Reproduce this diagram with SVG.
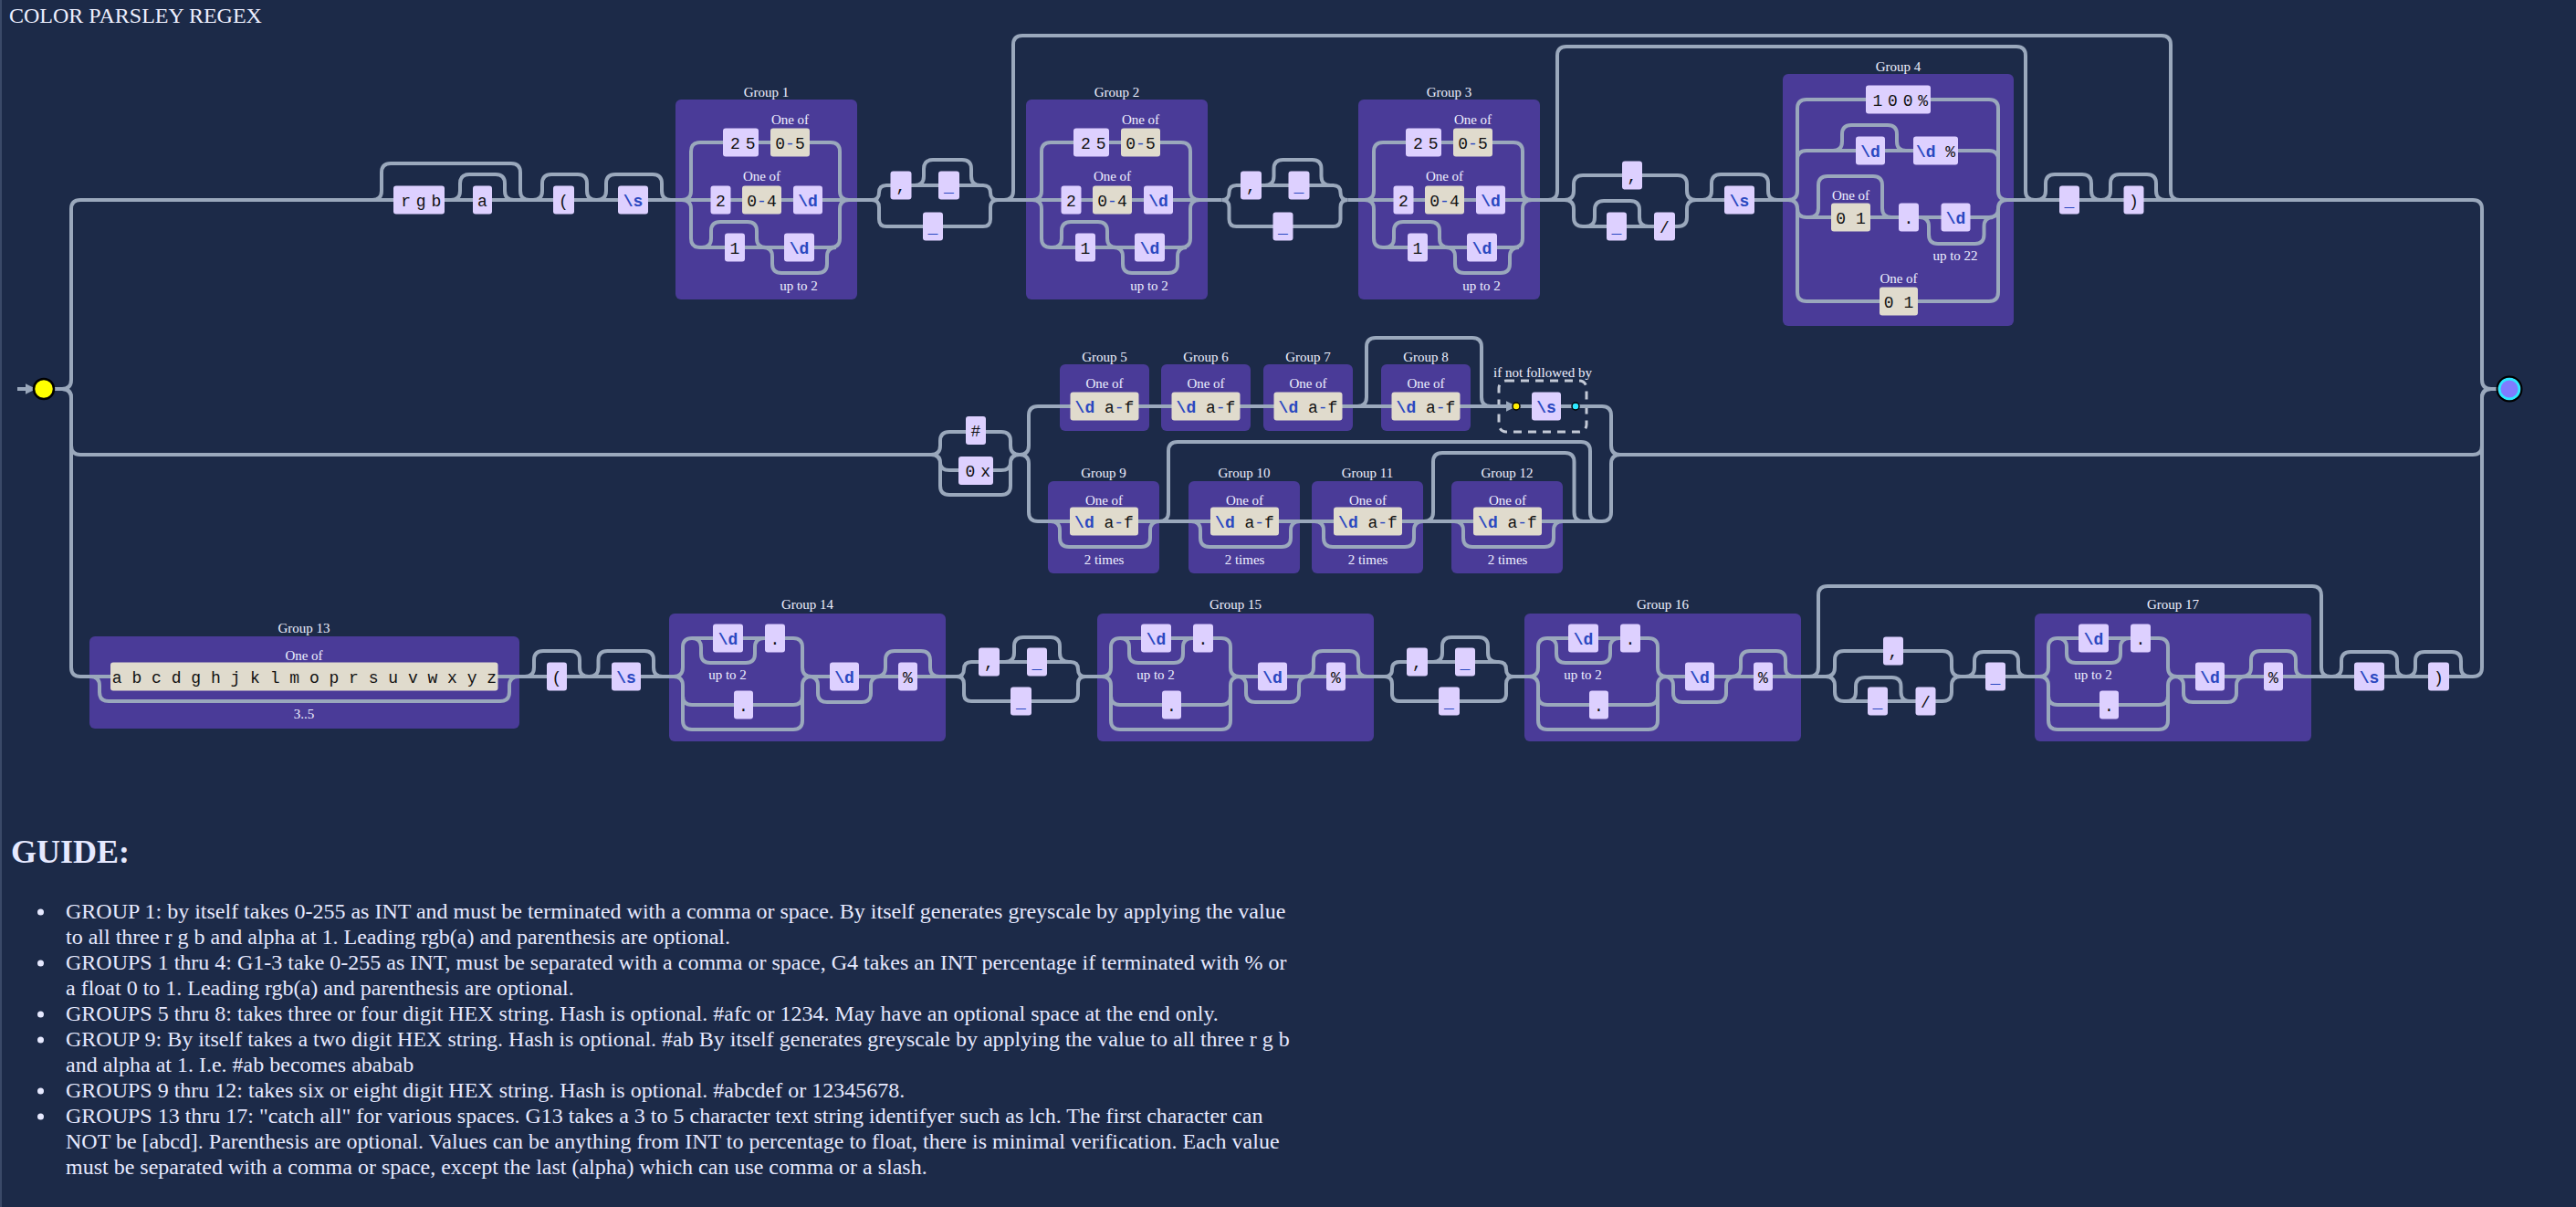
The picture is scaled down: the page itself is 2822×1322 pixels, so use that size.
<svg xmlns="http://www.w3.org/2000/svg" width="2822" height="1322" viewBox="0 0 2822 1322">
<defs>
<style>
.grp{fill:#4a3b98}
.lit{fill:#ddd0ff}
.cs{fill:#e0dbcd}
.ln{fill:none;stroke:#9aa8bc;stroke-width:4}
.lbl{font-family:"Liberation Serif",serif;font-size:15px;fill:#eef0ff;text-anchor:middle}
.t{font-family:"Liberation Mono","DejaVu Sans Mono",monospace;font-size:18px;fill:#111;text-anchor:middle}
.sp{letter-spacing:-2.5px}
.b{fill:#2a48c0;font-weight:bold}
.h{fill:#2a48c0}
.guide{font-family:"Liberation Serif",serif;font-size:24px;fill:#e6e9ff}
</style>
<marker id="arr" viewBox="0 0 10 10" refX="2" refY="5" markerWidth="3" markerHeight="3" orient="auto"><path d="M0 0 L10 5 L0 10 z" fill="#9aa8bc"/></marker>
</defs>
<rect x="0" y="0" width="2822" height="1322" fill="#1c2a48"/>
<rect x="0" y="0" width="2" height="1322" fill="#3a4968"/>
<text x="10" y="25" font-family="Liberation Serif, serif" font-size="24" fill="#eef0ff">COLOR PARSLEY REGEX</text>

<!-- group containers -->
<g id="containers">
 <g id="group-1"><rect class="grp" x="740" y="109" width="199" height="219" rx="6"/><text class="lbl" x="839.5" y="106">Group 1</text></g>
 <g id="group-2"><rect class="grp" x="1124" y="109" width="199" height="219" rx="6"/><text class="lbl" x="1223.5" y="106">Group 2</text></g>
 <g id="group-3"><rect class="grp" x="1488" y="109" width="199" height="219" rx="6"/><text class="lbl" x="1587.5" y="106">Group 3</text></g>
 <g id="group-4"><rect class="grp" x="1953" y="81" width="253" height="276" rx="6"/><text class="lbl" x="2079.5" y="78">Group 4</text></g>
 <g id="group-5"><rect class="grp" x="1161" y="399" width="98" height="73" rx="6"/><text class="lbl" x="1210" y="396">Group 5</text></g>
 <g id="group-6"><rect class="grp" x="1272" y="399" width="98" height="73" rx="6"/><text class="lbl" x="1321" y="396">Group 6</text></g>
 <g id="group-7"><rect class="grp" x="1384" y="399" width="98" height="73" rx="6"/><text class="lbl" x="1433" y="396">Group 7</text></g>
 <g id="group-8"><rect class="grp" x="1513" y="399" width="98" height="73" rx="6"/><text class="lbl" x="1562" y="396">Group 8</text></g>
 <g id="group-9"><rect class="grp" x="1148" y="527" width="122" height="101" rx="6"/><text class="lbl" x="1209" y="523">Group 9</text></g>
 <g id="group-10"><rect class="grp" x="1302" y="527" width="122" height="101" rx="6"/><text class="lbl" x="1363" y="523">Group 10</text></g>
 <g id="group-11"><rect class="grp" x="1437" y="527" width="122" height="101" rx="6"/><text class="lbl" x="1498" y="523">Group 11</text></g>
 <g id="group-12"><rect class="grp" x="1590" y="527" width="122" height="101" rx="6"/><text class="lbl" x="1651" y="523">Group 12</text></g>
 <g id="group-13"><rect class="grp" x="98" y="697" width="471" height="101" rx="6"/><text class="lbl" x="333" y="693">Group 13</text></g>
 <g id="group-14"><rect class="grp" x="733" y="672" width="303" height="140" rx="6"/><text class="lbl" x="884.5" y="667">Group 14</text></g>
 <g id="group-15"><rect class="grp" x="1202" y="672" width="303" height="140" rx="6"/><text class="lbl" x="1353.5" y="667">Group 15</text></g>
 <g id="group-16"><rect class="grp" x="1670" y="672" width="303" height="140" rx="6"/><text class="lbl" x="1821.5" y="667">Group 16</text></g>
 <g id="group-17"><rect class="grp" x="2229" y="672" width="303" height="140" rx="6"/><text class="lbl" x="2380.5" y="667">Group 17</text></g>
 <g id="lookahead"><rect x="1642" y="417" width="96" height="56" rx="8" fill="none" stroke="#c3c9d6" stroke-width="3" stroke-dasharray="9 7"/><text class="lbl" x="1690" y="413">if not followed by</text></g>
</g>

<!-- connectors -->
<g id="connectors" class="ln">
 <!-- start / rails -->
 <path d="M19 426 H30" marker-end="url(#arr)"/>
 <path d="M60 426 H68 q10 0 10 -10 V229 q0 -10 10 -10 H955"/>
 <path d="M68 426 q10 0 10 10 V488 q0 10 10 10 H1020"/>
 <path d="M68 426 q10 0 10 10 V731 q0 10 10 10 H738"/>
 <!-- top row main -->
 <path d="M1093 219 H1338.5 M1476.5 219 H1714 M1858 219 H1959 M2199 219 H2709 q10 0 10 10 V416 q0 10 10 10 H2737"/>
 <path d="M408 219 q10 0 10 -10 V189 q0 -10 10 -10 H560 q10 0 10 10 V209 q0 10 10 10"/>
 <path d="M494 219 q10 0 10 -10 V201 q0 -10 10 -10 H543 q10 0 10 10 V209 q0 10 10 10"/>
 <path d="M584 219 q10 0 10 -10 V201 q0 -10 10 -10 H633 q10 0 10 10 V209 q0 10 10 10"/>
 <path d="M654 219 q10 0 10 -10 V201 q0 -10 10 -10 H715 q10 0 10 10 V209 q0 10 10 10"/>
 <g id="c-g1"><path d="M747 219 q10 0 10 -10 V166 q0 -10 10 -10 H910 q10 0 10 10 V209 q0 10 10 10 M747 219 q10 0 10 10 V261 q0 10 10 10 H910 q10 0 10 -10 V229 q0 -10 10 -10 M769 271 q10 0 10 -10 V253 q0 -10 10 -10 H819 q10 0 10 10 V261 q0 10 10 10 M836 271 q10 0 10 10 V289 q0 10 10 10 H896 q10 0 10 -10 V281 q0 -10 10 -10"/></g>
 <g id="c-g2" transform="translate(384,0)"><path d="M747 219 q10 0 10 -10 V166 q0 -10 10 -10 H910 q10 0 10 10 V209 q0 10 10 10 M747 219 q10 0 10 10 V261 q0 10 10 10 H910 q10 0 10 -10 V229 q0 -10 10 -10 M769 271 q10 0 10 -10 V253 q0 -10 10 -10 H819 q10 0 10 10 V261 q0 10 10 10 M836 271 q10 0 10 10 V289 q0 10 10 10 H896 q10 0 10 -10 V281 q0 -10 10 -10"/></g>
 <g id="c-g3" transform="translate(748,0)"><path d="M747 219 q10 0 10 -10 V166 q0 -10 10 -10 H910 q10 0 10 10 V209 q0 10 10 10 M747 219 q10 0 10 10 V261 q0 10 10 10 H910 q10 0 10 -10 V229 q0 -10 10 -10 M769 271 q10 0 10 -10 V253 q0 -10 10 -10 H819 q10 0 10 10 V261 q0 10 10 10 M836 271 q10 0 10 10 V289 q0 10 10 10 H896 q10 0 10 -10 V281 q0 -10 10 -10"/></g>
 <g id="c-sep1" transform="translate(955,0)"><path d="M0 219 q8 0 8 -8 q0 -8 8 -8 H122 q8 0 8 8 q0 8 8 8 M0 219 q8 0 8 8 V240 q0 8 8 8 H122 q8 0 8 -8 V227 q0 -8 8 -8 M47 203 q10 0 10 -10 V185 q0 -10 10 -10 H99 q10 0 10 10 V193 q0 10 10 10"/></g>
 <g id="c-sep2" transform="translate(1338.5,0)"><path d="M0 219 q8 0 8 -8 q0 -8 8 -8 H122 q8 0 8 8 q0 8 8 8 M0 219 q8 0 8 8 V240 q0 8 8 8 H122 q8 0 8 -8 V227 q0 -8 8 -8 M47 203 q10 0 10 -10 V185 q0 -10 10 -10 H99 q10 0 10 10 V193 q0 10 10 10"/></g>
 <path d="M1100 219 q10 0 10 -10 V49 q0 -10 10 -10 H2368 q10 0 10 10 V209 q0 10 10 10"/>
 <path d="M1696 219 q10 0 10 -10 V61 q0 -10 10 -10 H2209 q10 0 10 10 V209 q0 10 10 10"/>
 <path d="M1714 219 q10 0 10 -10 V202 q0 -10 10 -10 H1838 q10 0 10 10 V209 q0 10 10 10 M1714 219 q10 0 10 10 V238 q0 10 10 10 H1838 q10 0 10 -10 V229 q0 -10 10 -10 M1737 248 q10 0 10 -10 V230 q0 -10 10 -10 H1786 q10 0 10 10 V238 q0 10 10 10"/>
 <path d="M1865 219 q10 0 10 -10 V201 q0 -10 10 -10 H1927 q10 0 10 10 V209 q0 10 10 10"/>
 <g id="c-g4"><path d="M1959 219 q10 0 10 -10 V119 q0 -10 10 -10 H2179 q10 0 10 10 V209 q0 10 10 10 M1959 219 q10 0 10 -10 V175 q0 -10 10 -10 H2179 q10 0 10 10 V209 q0 10 10 10 M1959 219 q10 0 10 9.5 q0 9.5 10 9.5 H2179 q10 0 10 -9.5 q0 -9.5 10 -9.5 M1959 219 q10 0 10 10 V320 q0 10 10 10 H2179 q10 0 10 -10 V229 q0 -10 10 -10 M2008 165 q10 0 10 -10 V147 q0 -10 10 -10 H2068 q10 0 10 10 V155 q0 10 10 10 M1982 238 q10 0 10 -10 V203 q0 -10 10 -10 H2052 q10 0 10 10 V228 q0 10 10 10 M2103 238 q10 0 10 10 V257 q0 10 10 10 H2163.5 q10 0 10 -10 V248 q0 -10 10 -10"/></g>
 <path d="M2231 219 q10 0 10 -10 V201 q0 -10 10 -10 H2281 q10 0 10 10 V209 q0 10 10 10"/>
 <path d="M2302 219 q10 0 10 -10 V201 q0 -10 10 -10 H2352 q10 0 10 10 V209 q0 10 10 10"/>
 <!-- middle row -->
 <path d="M1020 498 q10 0 10 -10 V483 q0 -10 10 -10 H1097 q10 0 10 10 V488 q0 10 10 10 M1020 498 q10 0 10 8.5 q0 8.5 10 8.5 H1097 q10 0 10 -8.5 q0 -8.5 10 -8.5 M1020 498 q10 0 10 10 V532 q0 10 10 10 H1097 q10 0 10 -10 V508 q0 -10 10 -10"/>
 <path d="M1117 498 q10 0 10 -10 V455 q0 -10 10 -10 H1755 q10 0 10 10 V488 q0 10 10 10"/>
 <path d="M1117 498 q10 0 10 10 V561 q0 10 10 10 H1755 q10 0 10 -10 V508 q0 -10 10 -10"/>
 <path d="M1775 498 H2709 q10 0 10 -10 V436 q0 -10 10 -10"/>
 <path d="M1487 445 q10 0 10 -10 V380 q0 -10 10 -10 H1613 q10 0 10 10 V435 q0 10 10 10"/>
 <path d="M1270 571 q10 0 10 -10 V494 q0 -10 10 -10 H1732 q10 0 10 10 V561 q0 10 10 10"/>
 <path d="M1560 571 q10 0 10 -10 V506 q0 -10 10 -10 H1714.5 q10 0 10 10 V561 q0 10 10 10"/>
 <path d="M1151 571 q10 0 10 10 V589 q0 10 10 10 H1250 q10 0 10 -10 V581 q0 -10 10 -10 M1305 571 q10 0 10 10 V589 q0 10 10 10 H1404 q10 0 10 -10 V581 q0 -10 10 -10 M1440 571 q10 0 10 10 V589 q0 10 10 10 H1539 q10 0 10 -10 V581 q0 -10 10 -10 M1593 571 q10 0 10 10 V589 q0 10 10 10 H1692 q10 0 10 -10 V581 q0 -10 10 -10"/>
 <path d="M1646 445 H1652" marker-end="url(#arr)"/>
 <!-- bottom row -->
 <path d="M889 741 H1048 M1189 741 H1207 M1358 741 H1517 M1658 741 H1675 M1826 741 H2000 M2148 741 H2234 M2385 741 H2709 q10 0 10 -10 V436 q0 -10 10 -10"/>
 <path d="M99 741 q10 0 10 10 V758 q0 10 10 10 H548 q10 0 10 -10 V751 q0 -10 10 -10"/>
 <path d="M575 741 q10 0 10 -10 V723 q0 -10 10 -10 H625 q10 0 10 10 V731 q0 10 10 10"/>
 <path d="M645.5 741 q10 0 10 -10 V723 q0 -10 10 -10 H706 q10 0 10 10 V731 q0 10 10 10"/>
 <g id="c-g14" transform="translate(733,0)"><path d="M5 741 q10 0 10 -10 V709 q0 -10 10 -10 H136 q10 0 10 10 V731 q0 10 10 10 M5 741 q10 0 10 10 V762 q0 10 10 10 H136 q10 0 10 -10 V751 q0 -10 10 -10 M5 741 q10 0 10 10 V789 q0 10 10 10 H136 q10 0 10 -10 V751 q0 -10 10 -10 M25 699 q10 0 10 10 V716 q0 10 10 10 H84 q10 0 10 -10 V709 q0 -10 10 -10 M156 741 H227 M153 741 q10 0 10 10 V759 q0 10 10 10 H211 q10 0 10 -10 V751 q0 -10 10 -10 M227 741 q10 0 10 -10 V723 q0 -10 10 -10 H276 q10 0 10 10 V731 q0 10 10 10 M227 741 H296"/></g>
 <g id="c-g15" transform="translate(1202,0)"><path d="M5 741 q10 0 10 -10 V709 q0 -10 10 -10 H136 q10 0 10 10 V731 q0 10 10 10 M5 741 q10 0 10 10 V762 q0 10 10 10 H136 q10 0 10 -10 V751 q0 -10 10 -10 M5 741 q10 0 10 10 V789 q0 10 10 10 H136 q10 0 10 -10 V751 q0 -10 10 -10 M25 699 q10 0 10 10 V716 q0 10 10 10 H84 q10 0 10 -10 V709 q0 -10 10 -10 M156 741 H227 M153 741 q10 0 10 10 V759 q0 10 10 10 H211 q10 0 10 -10 V751 q0 -10 10 -10 M227 741 q10 0 10 -10 V723 q0 -10 10 -10 H276 q10 0 10 10 V731 q0 10 10 10 M227 741 H296"/></g>
 <g id="c-g16" transform="translate(1670,0)"><path d="M5 741 q10 0 10 -10 V709 q0 -10 10 -10 H136 q10 0 10 10 V731 q0 10 10 10 M5 741 q10 0 10 10 V762 q0 10 10 10 H136 q10 0 10 -10 V751 q0 -10 10 -10 M5 741 q10 0 10 10 V789 q0 10 10 10 H136 q10 0 10 -10 V751 q0 -10 10 -10 M25 699 q10 0 10 10 V716 q0 10 10 10 H84 q10 0 10 -10 V709 q0 -10 10 -10 M156 741 H227 M153 741 q10 0 10 10 V759 q0 10 10 10 H211 q10 0 10 -10 V751 q0 -10 10 -10 M227 741 q10 0 10 -10 V723 q0 -10 10 -10 H276 q10 0 10 10 V731 q0 10 10 10 M227 741 H296"/></g>
 <g id="c-g17" transform="translate(2229,0)"><path d="M5 741 q10 0 10 -10 V709 q0 -10 10 -10 H136 q10 0 10 10 V731 q0 10 10 10 M5 741 q10 0 10 10 V762 q0 10 10 10 H136 q10 0 10 -10 V751 q0 -10 10 -10 M5 741 q10 0 10 10 V789 q0 10 10 10 H136 q10 0 10 -10 V751 q0 -10 10 -10 M25 699 q10 0 10 10 V716 q0 10 10 10 H84 q10 0 10 -10 V709 q0 -10 10 -10 M156 741 H227 M153 741 q10 0 10 10 V759 q0 10 10 10 H211 q10 0 10 -10 V751 q0 -10 10 -10 M227 741 q10 0 10 -10 V723 q0 -10 10 -10 H276 q10 0 10 10 V731 q0 10 10 10 M227 741 H296"/></g>
 <g id="c-bsep1" transform="translate(1048,0)"><path d="M0 741 q8 0 8 -8 q0 -8 8 -8 H125 q8 0 8 8 q0 8 8 8 M0 741 q8 0 8 8 V760 q0 8 8 8 H125 q8 0 8 -8 V749 q0 -8 8 -8 M53 725 q10 0 10 -10 V708 q0 -10 10 -10 H103 q10 0 10 10 V715 q0 10 10 10"/></g>
 <g id="c-bsep2" transform="translate(1517,0)"><path d="M0 741 q8 0 8 -8 q0 -8 8 -8 H125 q8 0 8 8 q0 8 8 8 M0 741 q8 0 8 8 V760 q0 8 8 8 H125 q8 0 8 -8 V749 q0 -8 8 -8 M53 725 q10 0 10 -10 V708 q0 -10 10 -10 H103 q10 0 10 10 V715 q0 10 10 10"/></g>
 <path d="M1982 741 q10 0 10 -10 V652 q0 -10 10 -10 H2533 q10 0 10 10 V731 q0 10 10 10"/>
 <path d="M2000 741 q10 0 10 -10 V723 q0 -10 10 -10 H2128 q10 0 10 10 V731 q0 10 10 10 M2000 741 q10 0 10 10 V758 q0 10 10 10 H2128 q10 0 10 -10 V751 q0 -10 10 -10 M2023 768 q10 0 10 -10 V752 q0 -10 10 -10 H2072.5 q10 0 10 10 V758 q0 10 10 10"/>
 <path d="M2153 741 q10 0 10 -10 V724 q0 -10 10 -10 H2201 q10 0 10 10 V731 q0 10 10 10"/>
 <path d="M2555 741 q10 0 10 -10 V724 q0 -10 10 -10 H2616 q10 0 10 10 V731 q0 10 10 10"/>
 <path d="M2636 741 q10 0 10 -10 V724 q0 -10 10 -10 H2686 q10 0 10 10 V731 q0 10 10 10"/>
</g>

<!-- nodes -->
<g id="nodes">
 <g id="start"><circle cx="48" cy="426" r="11" fill="#ffff00" stroke="#000" stroke-width="2.5"/></g>
 <g id="end"><circle cx="2749" cy="426" r="11" fill="#7f7cff" stroke="#2ee8ff" stroke-width="3"/><circle cx="2749" cy="426" r="13.5" fill="none" stroke="#000" stroke-width="2"/></g>
 <g id="n-rgb"><rect class="lit" x="431" y="203.5" width="56" height="31" rx="3"/><text class="t sp" x="460" y="225.5">r g b</text></g>
 <g id="n-a"><rect class="lit" x="518" y="203.5" width="21" height="31" rx="3"/><text class="t" x="528.5" y="225.5">a</text></g>
 <g id="n-lp1"><rect class="lit" x="606" y="203.5" width="23" height="31" rx="3"/><text class="t" x="617.5" y="225.5">(</text></g>
 <g id="n-s1"><rect class="lit" x="677" y="203.5" width="33" height="31" rx="3"/><text class="t" x="693.5" y="225.5"><tspan class="b">\s</tspan></text></g>

 <g id="g1-items" transform="translate(740,0)">
  <g id="g1-25"><rect class="lit" x="52" y="140.5" width="39" height="31" rx="3"/><text class="t sp" x="72.5" y="162.5">2 5</text></g>
  <g id="g1-05"><text class="lbl" x="125.5" y="136">One of</text><rect class="cs" x="104" y="140.5" width="43" height="31" rx="3"/><text class="t" x="125.5" y="162.5">0<tspan class="h">-</tspan>5</text></g>
  <g id="g1-2"><rect class="lit" x="38.5" y="203.5" width="22" height="31" rx="3"/><text class="t" x="49.5" y="225.5">2</text></g>
  <g id="g1-04"><text class="lbl" x="94.5" y="198">One of</text><rect class="cs" x="73" y="203.5" width="43" height="31" rx="3"/><text class="t" x="94.5" y="225.5">0<tspan class="h">-</tspan>4</text></g>
  <g id="g1-d1"><rect class="lit" x="129" y="203.5" width="32" height="31" rx="3"/><text class="t" x="145" y="225.5"><tspan class="b">\d</tspan></text></g>
  <g id="g1-1"><rect class="lit" x="54" y="255.5" width="22" height="31" rx="3"/><text class="t" x="65" y="277.5">1</text></g>
  <g id="g1-d2"><rect class="lit" x="119" y="255.5" width="33" height="31" rx="3"/><text class="t" x="135.5" y="277.5"><tspan class="b">\d</tspan></text><text class="lbl" x="135" y="318">up to 2</text></g>
 </g>
 <g id="g2-items" transform="translate(1124,0)">
  <g id="g2-25"><rect class="lit" x="52" y="140.5" width="39" height="31" rx="3"/><text class="t sp" x="72.5" y="162.5">2 5</text></g>
  <g id="g2-05"><text class="lbl" x="125.5" y="136">One of</text><rect class="cs" x="104" y="140.5" width="43" height="31" rx="3"/><text class="t" x="125.5" y="162.5">0<tspan class="h">-</tspan>5</text></g>
  <g id="g2-2"><rect class="lit" x="38.5" y="203.5" width="22" height="31" rx="3"/><text class="t" x="49.5" y="225.5">2</text></g>
  <g id="g2-04"><text class="lbl" x="94.5" y="198">One of</text><rect class="cs" x="73" y="203.5" width="43" height="31" rx="3"/><text class="t" x="94.5" y="225.5">0<tspan class="h">-</tspan>4</text></g>
  <g id="g2-d1"><rect class="lit" x="129" y="203.5" width="32" height="31" rx="3"/><text class="t" x="145" y="225.5"><tspan class="b">\d</tspan></text></g>
  <g id="g2-1"><rect class="lit" x="54" y="255.5" width="22" height="31" rx="3"/><text class="t" x="65" y="277.5">1</text></g>
  <g id="g2-d2"><rect class="lit" x="119" y="255.5" width="33" height="31" rx="3"/><text class="t" x="135.5" y="277.5"><tspan class="b">\d</tspan></text><text class="lbl" x="135" y="318">up to 2</text></g>
 </g>
 <g id="g3-items" transform="translate(1488,0)">
  <g id="g3-25"><rect class="lit" x="52" y="140.5" width="39" height="31" rx="3"/><text class="t sp" x="72.5" y="162.5">2 5</text></g>
  <g id="g3-05"><text class="lbl" x="125.5" y="136">One of</text><rect class="cs" x="104" y="140.5" width="43" height="31" rx="3"/><text class="t" x="125.5" y="162.5">0<tspan class="h">-</tspan>5</text></g>
  <g id="g3-2"><rect class="lit" x="38.5" y="203.5" width="22" height="31" rx="3"/><text class="t" x="49.5" y="225.5">2</text></g>
  <g id="g3-04"><text class="lbl" x="94.5" y="198">One of</text><rect class="cs" x="73" y="203.5" width="43" height="31" rx="3"/><text class="t" x="94.5" y="225.5">0<tspan class="h">-</tspan>4</text></g>
  <g id="g3-d1"><rect class="lit" x="129" y="203.5" width="32" height="31" rx="3"/><text class="t" x="145" y="225.5"><tspan class="b">\d</tspan></text></g>
  <g id="g3-1"><rect class="lit" x="54" y="255.5" width="22" height="31" rx="3"/><text class="t" x="65" y="277.5">1</text></g>
  <g id="g3-d2"><rect class="lit" x="119" y="255.5" width="33" height="31" rx="3"/><text class="t" x="135.5" y="277.5"><tspan class="b">\d</tspan></text><text class="lbl" x="135" y="318">up to 2</text></g>
 </g>
 <g id="sep1-items" transform="translate(955,0)">
  <g id="s1-comma"><rect class="lit" x="20.5" y="187.5" width="23" height="31" rx="3"/><text class="t" x="32" y="209.5">,</text></g>
  <g id="s1-sp1"><rect class="lit" x="73" y="187.5" width="23" height="31" rx="3"/><text class="t h" x="84.5" y="209.5">_</text></g>
  <g id="s1-sp2"><rect class="lit" x="56" y="232.5" width="22" height="31" rx="3"/><text class="t h" x="67" y="254.5">_</text></g>
 </g>
 <g id="sep2-items" transform="translate(1338.5,0)">
  <g id="s2-comma"><rect class="lit" x="20.5" y="187.5" width="23" height="31" rx="3"/><text class="t" x="32" y="209.5">,</text></g>
  <g id="s2-sp1"><rect class="lit" x="73" y="187.5" width="23" height="31" rx="3"/><text class="t h" x="84.5" y="209.5">_</text></g>
  <g id="s2-sp2"><rect class="lit" x="56" y="232.5" width="22" height="31" rx="3"/><text class="t h" x="67" y="254.5">_</text></g>
 </g>
 <g id="s3-comma"><rect class="lit" x="1777" y="176.5" width="22" height="31" rx="3"/><text class="t" x="1788" y="198.5">,</text></g>
 <g id="s3-sp"><rect class="lit" x="1760" y="232.5" width="22" height="31" rx="3"/><text class="t h" x="1771" y="254.5">_</text></g>
 <g id="s3-slash"><rect class="lit" x="1812" y="232.5" width="23" height="31" rx="3"/><text class="t" x="1823.5" y="254.5">/</text></g>
 <g id="n-s2"><rect class="lit" x="1889" y="203.5" width="33" height="31" rx="3"/><text class="t" x="1905.5" y="225.5"><tspan class="b">\s</tspan></text></g>
 <g id="g4-100"><rect class="lit" x="2044" y="93.5" width="71" height="31" rx="3"/><text class="t sp" x="2080.5" y="115.5">1 0 0 %</text></g>
 <g id="g4-d1"><rect class="lit" x="2033" y="149.5" width="32" height="31" rx="3"/><text class="t" x="2049" y="171.5"><tspan class="b">\d</tspan></text></g>
 <g id="g4-dp"><rect class="lit" x="2096" y="149.5" width="49" height="31" rx="3"/><text class="t" x="2120.5" y="171.5"><tspan class="b">\d</tspan> %</text></g>
 <g id="g4-01a"><text class="lbl" x="2027.5" y="219">One of</text><rect class="cs" x="2006" y="222.5" width="43" height="31" rx="3"/><text class="t" x="2027.5" y="244.5">0 1</text></g>
 <g id="g4-dot"><rect class="lit" x="2080" y="222.5" width="22" height="31" rx="3"/><text class="t" x="2091" y="244.5">.</text></g>
 <g id="g4-d2"><rect class="lit" x="2126.5" y="222.5" width="32" height="31" rx="3"/><text class="t" x="2142.5" y="244.5"><tspan class="b">\d</tspan></text><text class="lbl" x="2142" y="285">up to 22</text></g>
 <g id="g4-01b"><text class="lbl" x="2080" y="310">One of</text><rect class="cs" x="2059" y="314.5" width="42" height="31" rx="3"/><text class="t" x="2080" y="336.5">0 1</text></g>
 <g id="n-sp3"><rect class="lit" x="2256" y="203.5" width="22" height="31" rx="3"/><text class="t h" x="2267" y="225.5">_</text></g>
 <g id="n-rp1"><rect class="lit" x="2326.5" y="203.5" width="22" height="31" rx="3"/><text class="t" x="2337.5" y="225.5">)</text></g>

 <!-- middle -->
 <g id="n-hash"><rect class="lit" x="1058" y="456" width="22" height="31" rx="3"/><text class="t" x="1069" y="478">#</text></g>
 <g id="n-0x"><rect class="lit" x="1050" y="500" width="38" height="31" rx="3"/><text class="t sp" x="1070" y="522">0 x</text></g>
 <g id="g5-set"><text class="lbl" x="1210" y="425">One of</text><rect class="cs" x="1172.5" y="429.5" width="75" height="31" rx="3"/><text class="t" x="1210" y="451.5"><tspan class="b">\d</tspan> a<tspan class="h">-</tspan>f</text></g>
 <g id="g6-set"><text class="lbl" x="1321" y="425">One of</text><rect class="cs" x="1283.5" y="429.5" width="75" height="31" rx="3"/><text class="t" x="1321" y="451.5"><tspan class="b">\d</tspan> a<tspan class="h">-</tspan>f</text></g>
 <g id="g7-set"><text class="lbl" x="1433" y="425">One of</text><rect class="cs" x="1395.5" y="429.5" width="75" height="31" rx="3"/><text class="t" x="1433" y="451.5"><tspan class="b">\d</tspan> a<tspan class="h">-</tspan>f</text></g>
 <g id="g8-set"><text class="lbl" x="1562" y="425">One of</text><rect class="cs" x="1524.5" y="429.5" width="75" height="31" rx="3"/><text class="t" x="1562" y="451.5"><tspan class="b">\d</tspan> a<tspan class="h">-</tspan>f</text></g>
 <g id="la-items"><circle cx="1661" cy="445" r="4" fill="#ffee00" stroke="#000" stroke-width="1.5"/><rect class="lit" x="1678" y="429.5" width="32" height="31" rx="3"/><text class="t" x="1694" y="451.5"><tspan class="b">\s</tspan></text><circle cx="1726" cy="445" r="4" fill="#2ee8ff" stroke="#000" stroke-width="1.5"/></g>
 <g id="g9-set"><text class="lbl" x="1209.5" y="553">One of</text><rect class="cs" x="1172" y="555.5" width="75" height="31" rx="3"/><text class="t" x="1209.5" y="577.5"><tspan class="b">\d</tspan> a<tspan class="h">-</tspan>f</text><text class="lbl" x="1209.5" y="618">2 times</text></g>
 <g id="g10-set"><text class="lbl" x="1363.5" y="553">One of</text><rect class="cs" x="1326" y="555.5" width="75" height="31" rx="3"/><text class="t" x="1363.5" y="577.5"><tspan class="b">\d</tspan> a<tspan class="h">-</tspan>f</text><text class="lbl" x="1363.5" y="618">2 times</text></g>
 <g id="g11-set"><text class="lbl" x="1498.5" y="553">One of</text><rect class="cs" x="1461" y="555.5" width="75" height="31" rx="3"/><text class="t" x="1498.5" y="577.5"><tspan class="b">\d</tspan> a<tspan class="h">-</tspan>f</text><text class="lbl" x="1498.5" y="618">2 times</text></g>
 <g id="g12-set"><text class="lbl" x="1651.5" y="553">One of</text><rect class="cs" x="1614" y="555.5" width="75" height="31" rx="3"/><text class="t" x="1651.5" y="577.5"><tspan class="b">\d</tspan> a<tspan class="h">-</tspan>f</text><text class="lbl" x="1651.5" y="618">2 times</text></g>

 <!-- bottom -->
 <g id="g13-set"><text class="lbl" x="333" y="723">One of</text><rect class="cs" x="121" y="725.5" width="424.5" height="31" rx="3"/><text class="t" x="333.5" y="747.5">a b c d g h j k l m o p r s u v w x y z</text><text class="lbl" x="333" y="787">3..5</text></g>
 <g id="n-lp2"><rect class="lit" x="599" y="725.5" width="22" height="31" rx="3"/><text class="t" x="610" y="747.5">(</text></g>
 <g id="n-s3"><rect class="lit" x="670" y="725.5" width="32" height="31" rx="3"/><text class="t" x="686" y="747.5"><tspan class="b">\s</tspan></text></g>
 <g id="g14-items" transform="translate(733,0)">
  <g id="g14-d1"><rect class="lit" x="48" y="683.5" width="33" height="31" rx="3"/><text class="t" x="64.5" y="705.5"><tspan class="b">\d</tspan></text><text class="lbl" x="64" y="744">up to 2</text></g>
  <g id="g14-dot1"><rect class="lit" x="105" y="683.5" width="22" height="31" rx="3"/><text class="t" x="116" y="705.5">.</text></g>
  <g id="g14-dot2"><rect class="lit" x="71" y="756.5" width="21" height="31" rx="3"/><text class="t" x="81.5" y="778.5">.</text></g>
  <g id="g14-d2"><rect class="lit" x="176" y="725.5" width="32" height="31" rx="3"/><text class="t" x="192" y="747.5"><tspan class="b">\d</tspan></text></g>
  <g id="g14-pc"><rect class="lit" x="251" y="725.5" width="21" height="31" rx="3"/><text class="t" x="261.5" y="747.5">%</text></g>
 </g>
 <g id="g15-items" transform="translate(1202,0)">
  <g id="g15-d1"><rect class="lit" x="48" y="683.5" width="33" height="31" rx="3"/><text class="t" x="64.5" y="705.5"><tspan class="b">\d</tspan></text><text class="lbl" x="64" y="744">up to 2</text></g>
  <g id="g15-dot1"><rect class="lit" x="105" y="683.5" width="22" height="31" rx="3"/><text class="t" x="116" y="705.5">.</text></g>
  <g id="g15-dot2"><rect class="lit" x="71" y="756.5" width="21" height="31" rx="3"/><text class="t" x="81.5" y="778.5">.</text></g>
  <g id="g15-d2"><rect class="lit" x="176" y="725.5" width="32" height="31" rx="3"/><text class="t" x="192" y="747.5"><tspan class="b">\d</tspan></text></g>
  <g id="g15-pc"><rect class="lit" x="251" y="725.5" width="21" height="31" rx="3"/><text class="t" x="261.5" y="747.5">%</text></g>
 </g>
 <g id="g16-items" transform="translate(1670,0)">
  <g id="g16-d1"><rect class="lit" x="48" y="683.5" width="33" height="31" rx="3"/><text class="t" x="64.5" y="705.5"><tspan class="b">\d</tspan></text><text class="lbl" x="64" y="744">up to 2</text></g>
  <g id="g16-dot1"><rect class="lit" x="105" y="683.5" width="22" height="31" rx="3"/><text class="t" x="116" y="705.5">.</text></g>
  <g id="g16-dot2"><rect class="lit" x="71" y="756.5" width="21" height="31" rx="3"/><text class="t" x="81.5" y="778.5">.</text></g>
  <g id="g16-d2"><rect class="lit" x="176" y="725.5" width="32" height="31" rx="3"/><text class="t" x="192" y="747.5"><tspan class="b">\d</tspan></text></g>
  <g id="g16-pc"><rect class="lit" x="251" y="725.5" width="21" height="31" rx="3"/><text class="t" x="261.5" y="747.5">%</text></g>
 </g>
 <g id="g17-items" transform="translate(2229,0)">
  <g id="g17-d1"><rect class="lit" x="48" y="683.5" width="33" height="31" rx="3"/><text class="t" x="64.5" y="705.5"><tspan class="b">\d</tspan></text><text class="lbl" x="64" y="744">up to 2</text></g>
  <g id="g17-dot1"><rect class="lit" x="105" y="683.5" width="22" height="31" rx="3"/><text class="t" x="116" y="705.5">.</text></g>
  <g id="g17-dot2"><rect class="lit" x="71" y="756.5" width="21" height="31" rx="3"/><text class="t" x="81.5" y="778.5">.</text></g>
  <g id="g17-d2"><rect class="lit" x="176" y="725.5" width="32" height="31" rx="3"/><text class="t" x="192" y="747.5"><tspan class="b">\d</tspan></text></g>
  <g id="g17-pc"><rect class="lit" x="251" y="725.5" width="21" height="31" rx="3"/><text class="t" x="261.5" y="747.5">%</text></g>
 </g>
 <g id="bsep1-items" transform="translate(1048,0)">
  <g id="bs1-comma"><rect class="lit" x="24" y="709.5" width="23" height="31" rx="3"/><text class="t" x="35.5" y="731.5">,</text></g>
  <g id="bs1-sp1"><rect class="lit" x="77" y="709.5" width="22" height="31" rx="3"/><text class="t h" x="88" y="731.5">_</text></g>
  <g id="bs1-sp2"><rect class="lit" x="59" y="752.5" width="23" height="31" rx="3"/><text class="t h" x="70.5" y="774.5">_</text></g>
 </g>
 <g id="bsep2-items" transform="translate(1517,0)">
  <g id="bs2-comma"><rect class="lit" x="24" y="709.5" width="23" height="31" rx="3"/><text class="t" x="35.5" y="731.5">,</text></g>
  <g id="bs2-sp1"><rect class="lit" x="77" y="709.5" width="22" height="31" rx="3"/><text class="t h" x="88" y="731.5">_</text></g>
  <g id="bs2-sp2"><rect class="lit" x="59" y="752.5" width="23" height="31" rx="3"/><text class="t h" x="70.5" y="774.5">_</text></g>
 </g>
 <g id="bs3-comma"><rect class="lit" x="2063" y="697.5" width="22" height="31" rx="3"/><text class="t" x="2074" y="719.5">,</text></g>
 <g id="bs3-sp"><rect class="lit" x="2046" y="752.5" width="22" height="31" rx="3"/><text class="t h" x="2057" y="774.5">_</text></g>
 <g id="bs3-slash"><rect class="lit" x="2098.5" y="752.5" width="22" height="31" rx="3"/><text class="t" x="2109.5" y="774.5">/</text></g>
 <g id="n-sp4"><rect class="lit" x="2175" y="725.5" width="22" height="31" rx="3"/><text class="t h" x="2186" y="747.5">_</text></g>
 <g id="n-s4"><rect class="lit" x="2579" y="725.5" width="33" height="31" rx="3"/><text class="t" x="2595.5" y="747.5"><tspan class="b">\s</tspan></text></g>
 <g id="n-rp2"><rect class="lit" x="2660" y="725.5" width="23" height="31" rx="3"/><text class="t" x="2671.5" y="747.5">)</text></g>
</g>

<!-- guide -->
<g id="guide">
 <text x="12" y="945" font-family="Liberation Serif, serif" font-size="36" font-weight="bold" fill="#e6e9ff">GUIDE:</text>
 <g fill="#e6e9ff"><circle cx="44.5" cy="999" r="3.5"/><circle cx="44.5" cy="1055" r="3.5"/><circle cx="44.5" cy="1111" r="3.5"/><circle cx="44.5" cy="1139" r="3.5"/><circle cx="44.5" cy="1195" r="3.5"/><circle cx="44.5" cy="1223" r="3.5"/></g>
 <text class="guide" x="72" y="1006">GROUP 1: by itself takes 0-255 as INT and must be terminated with a comma or space. By itself generates greyscale by applying the value</text>
 <text class="guide" x="72" y="1034">to all three r g b and alpha at 1. Leading rgb(a) and parenthesis are optional.</text>
 <text class="guide" x="72" y="1062">GROUPS 1 thru 4: G1-3 take 0-255 as INT, must be separated with a comma or space, G4 takes an INT percentage if terminated with % or</text>
 <text class="guide" x="72" y="1090">a float 0 to 1. Leading rgb(a) and parenthesis are optional.</text>
 <text class="guide" x="72" y="1118">GROUPS 5 thru 8: takes three or four digit HEX string. Hash is optional. #afc or 1234. May have an optional space at the end only.</text>
 <text class="guide" x="72" y="1146">GROUP 9: By itself takes a two digit HEX string. Hash is optional. #ab By itself generates greyscale by applying the value to all three r g b</text>
 <text class="guide" x="72" y="1174">and alpha at 1. I.e. #ab becomes ababab</text>
 <text class="guide" x="72" y="1202">GROUPS 9 thru 12: takes six or eight digit HEX string. Hash is optional. #abcdef or 12345678.</text>
 <text class="guide" x="72" y="1230">GROUPS 13 thru 17: "catch all" for various spaces. G13 takes a 3 to 5 character text string identifyer such as lch. The first character can</text>
 <text class="guide" x="72" y="1258">NOT be [abcd]. Parenthesis are optional. Values can be anything from INT to percentage to float, there is minimal verification. Each value</text>
 <text class="guide" x="72" y="1286">must be separated with a comma or space, except the last (alpha) which can use comma or a slash.</text>
</g>
</svg>
